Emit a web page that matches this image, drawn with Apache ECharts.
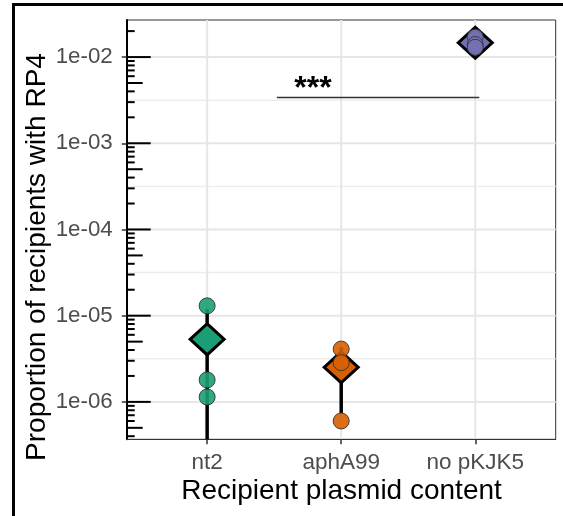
<!DOCTYPE html>
<html><head><meta charset="utf-8">
<script src="https://cdn.jsdelivr.net/npm/echarts@6/dist/echarts.min.js"></script>
<style>html,body{margin:0;padding:0;background:#fff}#c{width:563px;height:516px}</style>
</head><body><div id="c"></div>
<script>
// ---- data ----
const categories = ['nt2', 'aphA99', 'no pKJK5'];
const groupColors = ['#1B9E77', '#D95F02', '#7570B3'];
const nt2Values = [1.3e-5, 1.8e-6, 1.14e-6];
const aphA99Values = [4.1e-6, 2.85e-6, 6.0e-7];
const noPKJK5Values = [1.7e-2, 1.4e-2, 1.3e-2];
const yTickExponents = [-6, -5, -4, -3, -2];
const yTickLabels = ['1e-06', '1e-05', '1e-04', '1e-03', '1e-02'];
const yMinorGridExponents = [-5.5, -4.5, -3.5, -2.5];
const yExtent = [-6.434, -1.57];
const xExtent = [0.4, 3.6];
const xTickPositions = [1, 2, 3];
const signifLabel = '***';
const signifY = 3.4e-3;
const signifX = [1.52, 3.03];
const signifTextX = 1.79;
const xTitle = 'Recipient plasmid content';
const yTitle = 'Proportion of recipients with RP4';

const groups = [nt2Values, aphA99Values, noPKJK5Values];
const lg = Math.log10;
function mean(a) { return a.reduce((s, v) => s + v, 0) / a.length; }
function sd(a) { const m = mean(a); return Math.sqrt(a.reduce((s, v) => s + (v - m) * (v - m), 0) / (a.length - 1)); }

const font = 'Liberation Sans, Arial, sans-serif';
const chart = echarts.init(document.getElementById('c'), null, { renderer: 'canvas' });

const pointData = [];
groups.forEach((g, i) => g.forEach(v => pointData.push({ value: [i + 1, lg(v)], itemStyle: { color: groupColors[i] } })));
const meanData = groups.map((g, i) => ({ value: [i + 1, lg(mean(g))], itemStyle: { color: groupColors[i] } }));
const errData = groups.map((g, i) => [i + 1, mean(g), sd(g)]);

const option = {
  animation: false,
  grid: { left: 126.7, top: 20, right: 7.3, bottom: 76.7, show: true, borderColor: '#333', borderWidth: 1, backgroundColor: '#fff' },
  xAxis: {
    type: 'value', min: xExtent[0], max: xExtent[1],
    axisLine: { show: true, onZero: false, lineStyle: { color: '#333', width: 1 } },
    axisTick: { show: true, customValues: xTickPositions, length: 5, lineStyle: { color: '#333', width: 1.5 } },
    axisLabel: { customValues: xTickPositions, formatter: v => categories[Math.round(v) - 1], color: '#4D4D4D', fontSize: 22.5, fontFamily: font, margin: 12 },
    splitLine: { show: false }
  },
  yAxis: {
    type: 'value', min: yExtent[0], max: yExtent[1],
    axisLine: { show: true, onZero: false, lineStyle: { color: '#000', width: 2 } },
    axisTick: { show: true, customValues: yTickExponents, length: 5, lineStyle: { color: '#333', width: 1.5 } },
    axisLabel: { customValues: yTickExponents, formatter: v => yTickLabels[yTickExponents.indexOf(Math.round(v))], color: '#4D4D4D', fontSize: 22.3, fontFamily: font, margin: 14 },
    splitLine: { show: false }
  },
  graphic: [
    { type: 'line', shape: { x1: 12, y1: 4.5, x2: 563, y2: 4.5 }, style: { stroke: '#000', lineWidth: 3 } },
    { type: 'line', shape: { x1: 13.5, y1: 3, x2: 13.5, y2: 516 }, style: { stroke: '#000', lineWidth: 3 } },
    { type: 'text', x: 37, y: 257, rotation: Math.PI / 2, style: { text: yTitle, fill: '#000', font: '28px ' + font, textAlign: 'center', textVerticalAlign: 'middle' } },
    { type: 'text', x: 341.5, y: 491, style: { text: xTitle, fill: '#000', font: '28px ' + font, textAlign: 'center', textVerticalAlign: 'middle' } }
  ],
  series: [
    { // panel grid lines
      type: 'custom', z: 0, silent: true, data: [0],
      renderItem: (params, api) => {
        const cs = params.coordSys; const ch = [];
        yTickExponents.forEach(e => { const y = api.coord([xExtent[0], e])[1]; ch.push({ type: 'line', shape: { x1: cs.x, y1: y, x2: cs.x + cs.width, y2: y }, style: { stroke: '#E6E6E6', lineWidth: 2 } }); });
        yMinorGridExponents.forEach(e => { const y = api.coord([xExtent[0], e])[1]; ch.push({ type: 'line', shape: { x1: cs.x, y1: y, x2: cs.x + cs.width, y2: y }, style: { stroke: '#EDEDED', lineWidth: 1.5 } }); });
        xTickPositions.forEach(p => { const x = api.coord([p, yExtent[0]])[0]; ch.push({ type: 'line', shape: { x1: x, y1: cs.y, x2: x, y2: cs.y + cs.height }, style: { stroke: '#E6E6E6', lineWidth: 2 } }); });
        return { type: 'group', children: ch };
      }
    },
    { // error bars mean +- sd
      type: 'custom', z: 2, silent: true, data: errData,
      renderItem: (params, api) => {
        const x = api.value(0), m = api.value(1), s = api.value(2);
        const cs = params.coordSys;
        const top = api.coord([x, lg(m + s)]);
        const bottomY = (m - s) > 0 ? api.coord([x, lg(m - s)])[1] : cs.y + cs.height;
        return { type: 'line', shape: { x1: top[0], y1: Math.max(top[1], cs.y), x2: top[0], y2: bottomY }, style: { stroke: '#000', lineWidth: 3.5 } };
      }
    },
    { type: 'scatter', z: 3, data: meanData, symbol: 'diamond', symbolSize: [34, 31], itemStyle: { borderColor: '#000', borderWidth: 3, opacity: 1 } },
    { type: 'scatter', z: 4, data: pointData, symbol: 'circle', symbolSize: 16, itemStyle: { borderColor: '#333', borderWidth: 1, opacity: 0.9 } },
    { // annotation_logticks on the left
      type: 'custom', z: 5, silent: true, data: [0],
      renderItem: (params, api) => {
        const cs = params.coordSys; const ch = [];
        for (let e = -7; e <= -1; e++) {
          for (let k = 1; k <= 9; k++) {
            const v = lg(k) + e;
            if (v < yExtent[0] || v > yExtent[1]) continue;
            const y = api.coord([xExtent[0], v])[1];
            const len = k === 1 ? 24 : (k === 5 ? 16 : 8);
            ch.push({ type: 'line', shape: { x1: cs.x, y1: y, x2: cs.x + len, y2: y }, style: { stroke: '#000', lineWidth: 2 } });
          }
        }
        return { type: 'group', children: ch };
      }
    },
    { // significance annotation
      type: 'custom', z: 5, silent: true, data: [0],
      renderItem: (params, api) => {
        const a = api.coord([signifX[0], lg(signifY)]);
        const b = api.coord([signifX[1], lg(signifY)]);
        const t = api.coord([signifTextX, lg(signifY)]);
        return { type: 'group', children: [
          { type: 'line', shape: { x1: a[0], y1: a[1], x2: b[0], y2: b[1] }, style: { stroke: '#333', lineWidth: 1.5 } },
          { type: 'text', x: t[0], y: t[1] + 8, style: { text: signifLabel, fill: '#000', font: 'bold 32px ' + font, textAlign: 'center', textVerticalAlign: 'bottom' } }
        ] };
      }
    }
  ]
};
chart.setOption(option);
</script></body></html>
